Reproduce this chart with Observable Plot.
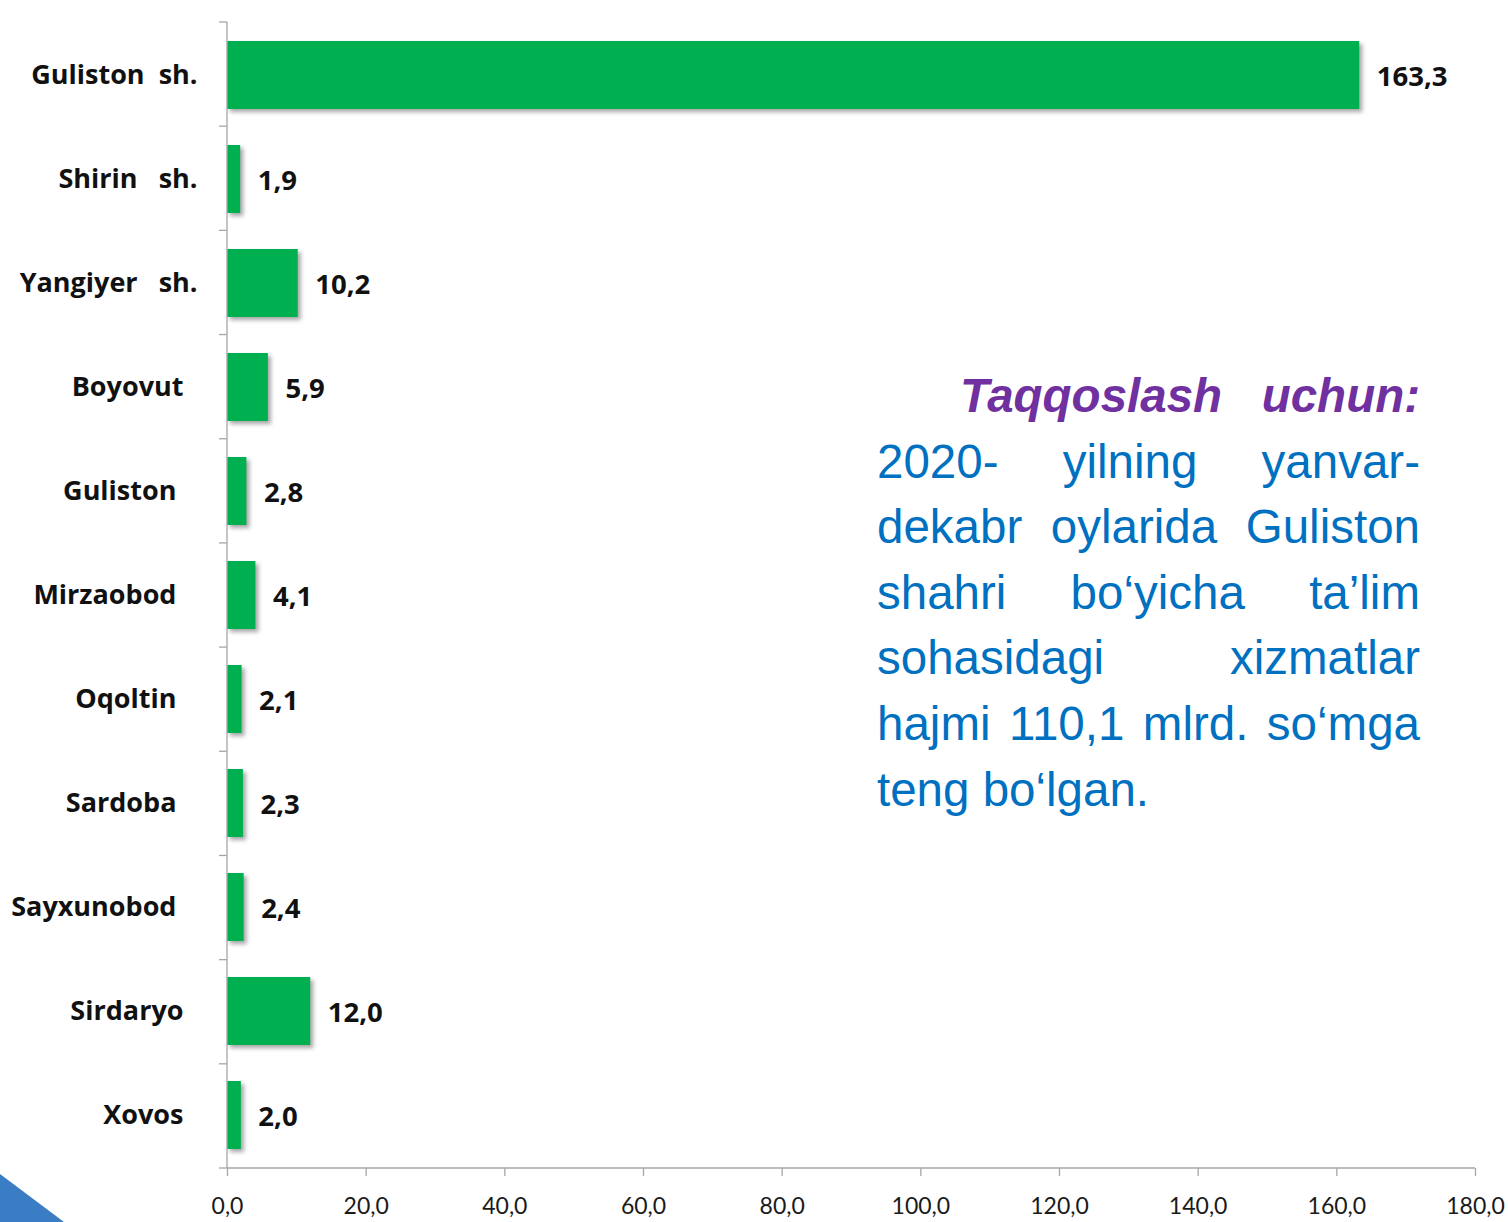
<!DOCTYPE html>
<html>
<head>
<meta charset="utf-8">
<script src="https://cdn.jsdelivr.net/npm/d3@7"></script>
<script src="https://cdn.jsdelivr.net/npm/@observablehq/plot@0.6"></script>
<style>
  html, body { margin: 0; padding: 0; background: #fff; }
  #wrap { position: relative; width: 1508px; height: 1222px; overflow: hidden; }
  #note { position: absolute; left: 877px; top: 363px; width: 543px; font-family: "Liberation Sans", Arial, sans-serif; font-size: 47.5px; line-height: 65.6px; color: #0070C0; }
  #note .title { text-align: right; color: #7030A0; font-weight: bold; font-style: italic; white-space: pre; }
  #note .ln { text-align: justify; text-align-last: justify; white-space: nowrap; }
  #note .ln.last { text-align-last: left; }
  #tri { position: absolute; left: 0; top: 1174px; width: 64px; height: 48px; background: #3A7DC4; clip-path: polygon(0 0, 100% 100%, 0 100%); }
</style>
</head>
<body>
<div id="wrap">
  <div id="chart"></div>
  <div id="note"></div>
  <div id="tri"></div>
</div>
<script>
const categories = ["Guliston  sh.", "Shirin   sh.", "Yangiyer   sh.", "Boyovut", "Guliston", "Mirzaobod", "Oqoltin", "Sardoba", "Sayxunobod", "Sirdaryo", "Xovos"];
const labelText = ["Guliston  sh.", "Shirin   sh.", "Yangiyer   sh.", "Boyovut\u00a0\u00a0", "Guliston\u00a0\u00a0\u00a0", "Mirzaobod\u00a0\u00a0\u00a0", "Oqoltin\u00a0\u00a0\u00a0", "Sardoba\u00a0\u00a0\u00a0", "Sayxunobod\u00a0\u00a0\u00a0", "Sirdaryo\u00a0\u00a0", "Xovos\u00a0\u00a0"];
const values = [163.3, 1.9, 10.2, 5.9, 2.8, 4.1, 2.1, 2.3, 2.4, 12.0, 2.0];
const xTicks = [0, 20, 40, 60, 80, 100, 120, 140, 160, 180];
const noteTitle = "Taqqoslash   uchun:";
const noteLines = ["2020- yilning yanvar-", "dekabr  oylarida Guliston", "shahri bo‘yicha ta’lim", "sohasidagi xizmatlar", "hajmi 110,1 mlrd. so‘mga", "teng bo‘lgan."];

const data = categories.map((c, i) => ({name: c, label: labelText[i], value: values[i]}));
const fmt = v => v.toFixed(1).replace(".", ",");
const axisColor = "#a6a6a6";

// axis lines and band boundary ticks drawn from the scales/dimensions
function frameMark(index, scales, values, dim) {
  const g = d3.create("svg:g").attr("stroke", axisColor).attr("stroke-width", 1.3);
  const x0 = scales.x(0), x1 = scales.x(180);
  const top = dim.marginTop, bottom = dim.height - dim.marginBottom;
  g.append("line").attr("x1", x0).attr("x2", x0).attr("y1", top).attr("y2", bottom);
  g.append("line").attr("x1", x0).attr("x2", x1).attr("y1", bottom).attr("y2", bottom);
  const n = categories.length, step = (bottom - top) / n;
  for (let i = 0; i <= n; i++) {
    const y = top + i * step;
    g.append("line").attr("x1", x0 - 8).attr("x2", x0).attr("y1", y).attr("y2", y);
  }
  return g.node();
}

const chart = Plot.plot({
  width: 1508,
  height: 1222,
  marginLeft: 227,
  marginRight: 33,
  marginTop: 22,
  marginBottom: 54,
  style: {fontFamily: "Lato, sans-serif", fontSize: "23px", color: "#1a1a1a", background: "transparent"},
  x: {domain: [0, 180], ticks: xTicks, tickFormat: fmt, tickSize: 8, tickPadding: 21, label: null},
  y: {domain: categories, paddingInner: 0.347, paddingOuter: 0.1735, axis: null},
  marks: [
    Plot.barX(data, {y: "name", x: "value", fill: "#00B050"}),
    frameMark,
    Plot.text(data, {y: "name", x: 0, text: "label", textAnchor: "end", dx: -30, fontSize: 27, fontWeight: "bold", fontFamily: "Open Sans, sans-serif", fill: "#111"}),
    Plot.text(data, {y: "name", x: "value", text: d => fmt(d.value), textAnchor: "start", dx: 17, dy: 2, fontSize: 27.5, fontWeight: "bold", fontFamily: "Open Sans, sans-serif", fill: "#111"})
  ]
});
document.getElementById("chart").appendChild(chart);

// styling: bar shadow, axis tick color, preserved spaces in labels
chart.querySelectorAll("g[aria-label='bar'] rect").forEach(r => r.style.filter = "drop-shadow(3px 3px 2px rgba(0,0,0,0.35))");
chart.querySelectorAll("g[aria-label='text'] text").forEach(t => t.style.whiteSpace = "pre");
chart.querySelectorAll("g[aria-label='x-axis tick'] path, g[aria-label='x-axis'] g.tick line").forEach(p => { p.setAttribute("stroke", axisColor); p.setAttribute("stroke-width", 1.3); });

// note block
const note = document.getElementById("note");
const t = document.createElement("div");
t.className = "title"; t.textContent = noteTitle; note.appendChild(t);
noteLines.forEach((l, i) => {
  const d = document.createElement("div");
  d.className = "ln" + (i === noteLines.length - 1 ? " last" : "");
  d.textContent = l;
  note.appendChild(d);
});
</script>
</body>
</html>
